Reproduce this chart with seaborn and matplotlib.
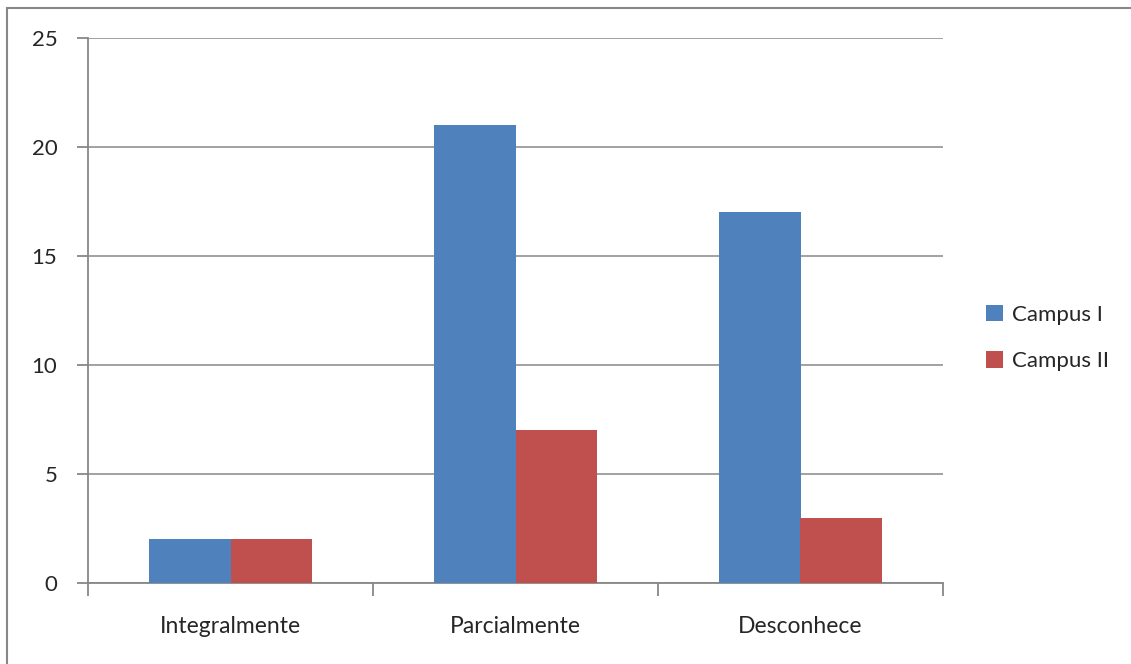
import matplotlib
matplotlib.use("Agg")
import matplotlib.pyplot as plt
import pandas as pd
import seaborn as sns
from matplotlib.patches import Rectangle

sns.set_style("white")
plt.rcParams["font.family"] = ["Lato", "DejaVu Sans"]

# dados
categorias = ["Integralmente", "Parcialmente", "Desconhece"]
campus_1 = [2, 21, 17]
campus_2 = [2, 7, 3]
series = ["Campus I", "Campus II"]
cores = ["#4F81BD", "#C0504D"]

df = pd.DataFrame({
    "Categoria": categorias * 2,
    "Valor": campus_1 + campus_2,
    "Serie": [series[0]] * 3 + [series[1]] * 3,
})

W, H = 1131, 664
fig = plt.figure(figsize=(W / 100, H / 100), dpi=100)
ax = fig.add_axes([88 / W, 1 - 583 / H, (943 - 88) / W, (583 - 38) / H])

sns.barplot(data=df, x="Categoria", y="Valor", hue="Serie", palette=cores,
            width=0.575, saturation=1, linewidth=0, ax=ax, zorder=3)

ax.set_ylim(0, 25)
ax.set_xlim(-0.5, 2.5)
ax.set_yticks([0, 5, 10, 15, 20, 25])
ax.yaxis.grid(True, color="#878787", linewidth=1.1, zorder=0)
ax.set_axisbelow(True)
for s in ["top", "right"]:
    ax.spines[s].set_visible(False)
for s in ["left", "bottom"]:
    ax.spines[s].set_color("#878787")
    ax.spines[s].set_linewidth(1.3)

# ticks nas fronteiras das categorias
ax.set_xticks([-0.5, 0.5, 1.5, 2.5], minor=True)
ax.tick_params(axis="x", which="major", bottom=False, length=0, labelsize=16.5, pad=24)
ax.tick_params(axis="x", which="minor", bottom=True, length=9, color="#878787", width=1.3, direction="out")
ax.tick_params(axis="y", left=True, length=8, color="#878787", width=1.3, direction="out", labelsize=16, pad=14)
ax.set_xlabel("")
ax.set_ylabel("")

leg = ax.legend(loc="center left", bbox_to_anchor=(986 / W, 1 - 338 / H),
                bbox_transform=fig.transFigure, frameon=False, borderpad=0, borderaxespad=0,
                fontsize=16, handlelength=0.75, handleheight=0.75, handletextpad=0.4,
                labelspacing=1.2)

# moldura externa
fig.patches.append(Rectangle((7 / W, -0.05), 1.2, 1 - 8 / H + 0.05, transform=fig.transFigure,
                             fill=False, edgecolor="#878787", linewidth=1.5))

fig.savefig("out.png", dpi=100)
